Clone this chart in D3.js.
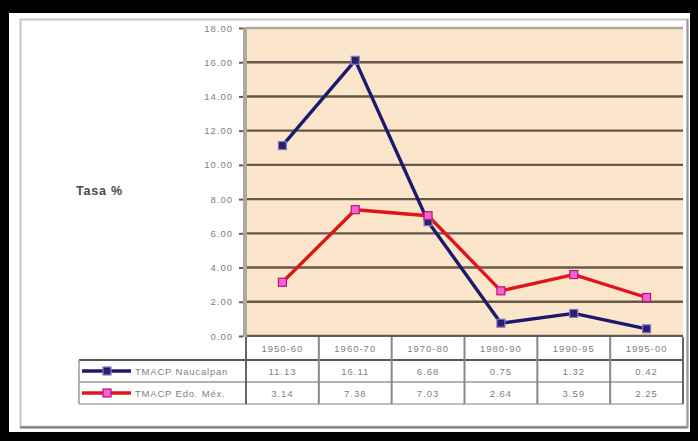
<!DOCTYPE html>
<html>
<head>
<meta charset="utf-8">
<script src="https://cdn.jsdelivr.net/npm/d3@7"></script>
<style>
  html, body { margin: 0; padding: 0; background: #000; }
  svg { display: block; font-family: Arial, "Liberation Sans", sans-serif; }
</style>
</head>
<body>
<svg id="chart" width="698" height="441"></svg>
<script>
// Growth rates per decade
const periods = ["1950-60", "1960-70", "1970-80", "1980-90", "1990-95", "1995-00"];
const naucalpan = [11.13, 16.11, 6.68, 0.75, 1.32, 0.42];
const edoMex = [3.14, 7.38, 7.03, 2.64, 3.59, 2.25];
const seriesNames = ["TMACP Naucalpan", "TMACP Edo. Méx."];
const yTicks = [0, 2, 4, 6, 8, 10, 12, 14, 16, 18];

const svg = d3.select("#chart");
const textFill = "#808080";

// frame: black outer edge, white card, grey bevel
svg.append("rect").attr("x", 0).attr("y", 0).attr("width", 698).attr("height", 441).attr("fill", "#000");
svg.append("rect").attr("x", 9).attr("y", 13).attr("width", 681).attr("height", 419).attr("fill", "#fff");
svg.append("rect").attr("x", 20.5).attr("y", 19.5).attr("width", 667).attr("height", 407)
  .attr("fill", "none").attr("stroke", "#c8c8c8").attr("stroke-width", 2);
svg.append("line").attr("x1", 20).attr("x2", 688).attr("y1", 427.5).attr("y2", 427.5)
  .attr("stroke", "#777").attr("stroke-width", 2);
svg.append("line").attr("x1", 687.5).attr("x2", 687.5).attr("y1", 19).attr("y2", 428)
  .attr("stroke", "#999").attr("stroke-width", 2);

const plot = { left: 246, right: 683, top: 28, bottom: 336 };

const x = d3.scaleBand().domain(periods).range([plot.left, plot.right]);
const y = d3.scaleLinear().domain([0, 18]).range([plot.bottom, plot.top]);

// plot background
svg.append("rect")
  .attr("x", plot.left).attr("y", plot.top)
  .attr("width", plot.right - plot.left).attr("height", plot.bottom - plot.top)
  .attr("fill", "#fbe6cb");

// horizontal gridlines
svg.append("g").selectAll("line").data(yTicks).join("line")
  .attr("x1", plot.left).attr("x2", plot.right)
  .attr("y1", d => y(d)).attr("y2", d => y(d))
  .attr("stroke", d => d === 18 ? "#b5aa98" : "#66594a")
  .attr("stroke-width", 2.4);

// left plot edge
svg.append("line").attr("x1", plot.left - 1).attr("x2", plot.left - 1)
  .attr("y1", plot.top - 1).attr("y2", plot.bottom + 1)
  .attr("stroke", "#b0a898").attr("stroke-width", 4);

// y axis labels
const yAxis = d3.axisLeft(y).tickValues(yTicks).tickFormat(d3.format(".2f")).tickSize(4);
const gy = svg.append("g").attr("transform", `translate(${plot.left - 3},0)`).call(yAxis);
gy.select(".domain").remove();
gy.selectAll(".tick line").attr("stroke", "#66594a").attr("stroke-width", 2);
gy.selectAll("text").attr("fill", textFill).attr("font-size", 9.5)
  .attr("letter-spacing", 1).attr("font-family", "Arial, sans-serif").attr("x", -10);

// axis title
svg.append("text").attr("x", 76).attr("y", 195)
  .attr("font-size", 12.5).attr("font-weight", "bold").attr("fill", "#4a4a4a")
  .attr("letter-spacing", 0.8)
  .text("Tasa %");

// series lines
const series = [
  { name: seriesNames[0], values: naucalpan, stroke: "#1c1a6e", marker: "#2a2070", markerStroke: "#8a78c8" },
  { name: seriesNames[1], values: edoMex, stroke: "#e0141a", marker: "#f064d8", markerStroke: "#c01078" }
];
const line = d3.line()
  .x((d, i) => x(periods[i]) + x.bandwidth() / 2)
  .y(d => y(d));

series.forEach(s => {
  svg.append("path").datum(s.values)
    .attr("d", line).attr("fill", "none")
    .attr("stroke", s.stroke).attr("stroke-width", 3.4).attr("stroke-linejoin", "round");
});
series.forEach(s => {
  svg.append("g").selectAll("rect").data(s.values).join("rect")
    .attr("x", (d, i) => x(periods[i]) + x.bandwidth() / 2 - 4)
    .attr("y", d => y(d) - 4)
    .attr("width", 8).attr("height", 8)
    .attr("fill", s.marker).attr("stroke", s.markerStroke).attr("stroke-width", 1.2);
});

// data table below the plot
const rowTop = plot.bottom + 1;
const rowH = [23, 22, 22];
const rowY = [rowTop, rowTop + rowH[0], rowTop + rowH[0] + rowH[1], rowTop + rowH[0] + rowH[1] + rowH[2]];
const legendLeft = 79;
const table = svg.append("g");

table.append("rect").attr("x", plot.left).attr("y", rowY[0])
  .attr("width", plot.right - plot.left).attr("height", rowY[3] - rowY[0]).attr("fill", "#fff");

// horizontal rules
table.append("line").attr("x1", legendLeft).attr("x2", plot.right)
  .attr("y1", rowY[1]).attr("y2", rowY[1]).attr("stroke", "#555").attr("stroke-width", 2);
table.append("line").attr("x1", legendLeft).attr("x2", plot.right)
  .attr("y1", rowY[2]).attr("y2", rowY[2]).attr("stroke", "#999").attr("stroke-width", 1.5);
table.append("line").attr("x1", legendLeft).attr("x2", plot.right)
  .attr("y1", rowY[3]).attr("y2", rowY[3]).attr("stroke", "#aaa").attr("stroke-width", 1.5);

// vertical rules
const colEdges = periods.map(p => x(p)).concat([plot.right]);
table.selectAll("line.v").data(colEdges).join("line").attr("class", "v")
  .attr("x1", d => d).attr("x2", d => d)
  .attr("y1", rowY[0]).attr("y2", rowY[3])
  .attr("stroke", (d, i) => i === 0 || i === colEdges.length - 1 ? "#666" : "#888")
  .attr("stroke-width", 2);
table.append("line").attr("x1", legendLeft).attr("x2", legendLeft)
  .attr("y1", rowY[1]).attr("y2", rowY[3]).attr("stroke", "#999").attr("stroke-width", 1.5);

// category labels
table.selectAll("text.cat").data(periods).join("text").attr("class", "cat")
  .attr("x", d => x(d) + x.bandwidth() / 2).attr("y", rowY[0] + 15)
  .attr("text-anchor", "middle").attr("font-size", 9.5).attr("letter-spacing", 1)
  .attr("fill", textFill)
  .text(d => d);

// value cells and legend keys
series.forEach((s, r) => {
  const cy = rowY[r + 1] + rowH[r + 1] / 2;
  table.selectAll(null).data(s.values).join("text")
    .attr("x", (d, i) => x(periods[i]) + x.bandwidth() / 2).attr("y", cy + 3.5)
    .attr("text-anchor", "middle").attr("font-size", 9.5).attr("letter-spacing", 1)
    .attr("fill", textFill)
    .text(d => d.toFixed(2));
  table.append("line").attr("x1", legendLeft + 3).attr("x2", legendLeft + 52)
    .attr("y1", cy).attr("y2", cy).attr("stroke", s.stroke).attr("stroke-width", 3.5);
  table.append("rect").attr("x", legendLeft + 24).attr("y", cy - 4).attr("width", 8).attr("height", 8)
    .attr("fill", s.marker).attr("stroke", s.markerStroke).attr("stroke-width", 1.2);
  table.append("text").attr("x", legendLeft + 56).attr("y", cy + 3.5)
    .attr("font-size", 9.5).attr("letter-spacing", 0.8).attr("fill", textFill).text(s.name);
});
</script>
</body>
</html>
